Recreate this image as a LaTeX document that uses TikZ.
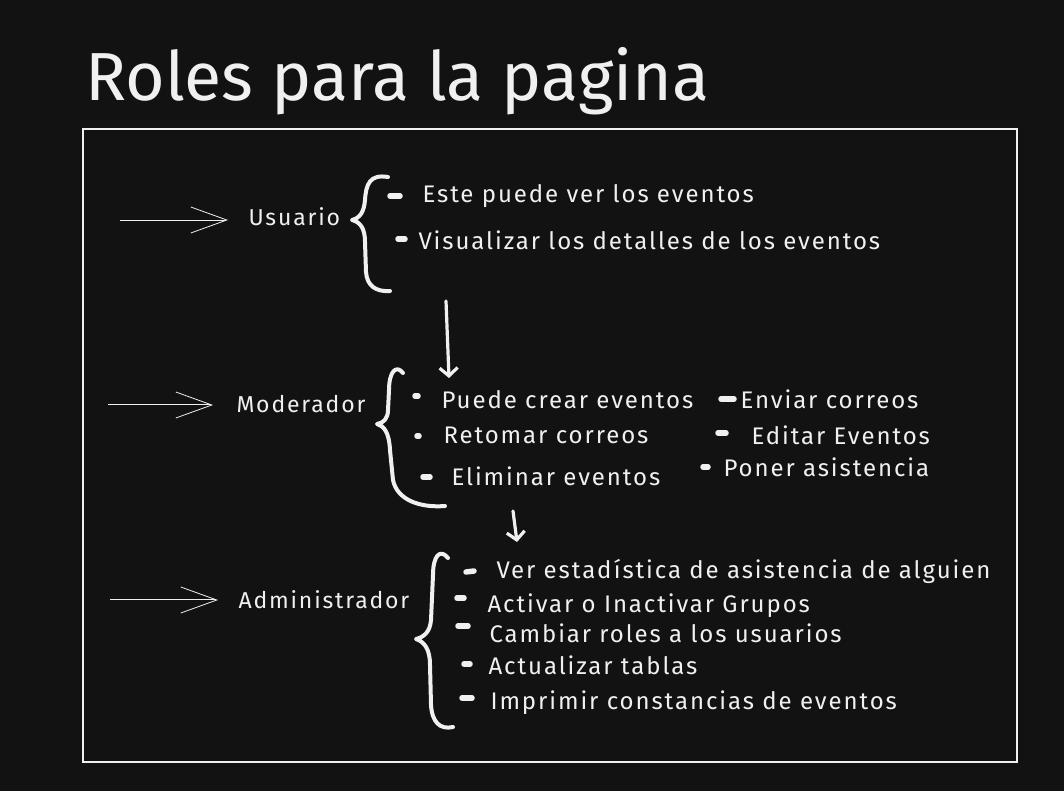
\documentclass[tikz,border=0pt]{standalone}
\usepackage{fontspec}
\setmainfont{Fira Sans}
\newfontfamily\chalkfont[LetterSpace=8]{Fira Sans}
\usetikzlibrary{positioning,arrows.meta}
\definecolor{boardbg}{HTML}{121212}
\definecolor{chalk}{HTML}{F0F0F0}
\begin{document}
\begin{tikzpicture}[x=1pt,y=-1pt,line width=1pt,
  every node/.style={text=chalk,inner sep=0pt,anchor=base west,font=\chalkfont\fontsize{24}{28}\selectfont},
  rolename/.style={font=\chalkfont\fontsize{23}{27}\selectfont},
  bullet/.style={draw=chalk,line width=5.5pt,line cap=round},
  brace/.style={draw=chalk,line width=4pt,line cap=round,line join=round},
  inarrow/.style={draw=chalk,double=boardbg,double distance=1pt,line width=.8pt,
    -{Straight Barb[length=36pt,width=26pt]}},
  downarrow/.style={draw=chalk,line width=3.2pt,line cap=round,line join=round,
    -{Straight Barb[length=8pt,width=18pt]}}]
\fill[boardbg] (0,0) rectangle (1064,791);
\useasboundingbox (0,0) rectangle (1064,791);
% title and frame
\node[font=\fontsize{68}{72}\selectfont] (title) at (85,101) {Roles para la pagina};
\draw[chalk,line width=1.5pt] (83,129) rectangle (1017,762);
% Usuario
\node[rolename] (usuario) at (248,226) {Usuario};
\coordinate (usuariotail) at (120,220);
\draw[inarrow] (usuariotail) -- (228,220);
\draw[brace] (388,177) .. controls (370,174) and (366,184) .. (365,200) .. controls (364,212) and (360,218) .. (352,220) .. controls (360,222) and (365,228) .. (365,242) -- (366,272) .. controls (367,286) and (376,292) .. (390,291);
\node (ver) at (422,203) {Este puede ver los eventos};
\node (visualizar) at (418,250) {Visualizar los detalles de los eventos};
\draw[bullet] (390,196) -- (400,196);
\draw[bullet] (398,239) -- (405,239);
% Usuario -> Moderador
\coordinate (down1top) at (446,301);
\coordinate (down1end) at (449,378);
\draw[downarrow] (down1top) -- (down1end);
% Moderador
\node[rolename] (moderador) at (236,412) {Moderador};
\coordinate (moderadortail) at (108,405);
\draw[inarrow] (moderadortail) -- (213,405);
\draw[brace] (403,373) .. controls (396,364) and (389,372) .. (389,390) -- (388,410) .. controls (388,418) and (384,423) .. (377,424) .. controls (384,426) and (389,432) .. (390,450) -- (393,480) .. controls (397,500) and (420,508) .. (445,506);
\node (crear) at (441,408) {Puede crear eventos};
\node (retomar) at (443,443) {Retomar correos};
\node (eliminar) at (451,485) {Eliminar eventos};
\node (enviar) at (740,408) {Enviar correos};
\node (editar) at (751,444) {Editar Eventos};
\node (poner) at (723,476) {Poner asistencia};
\draw[bullet] (415,396) -- (418,396);
\draw[bullet] (417,436) -- (419,436);
\draw[bullet] (423,477) -- (430,477);
\draw[bullet] (721,399) -- (734,399);
\draw[bullet] (718,433) -- (726,433);
\draw[bullet] (703,467) -- (708,467);
% Moderador -> Administrador
\coordinate (down2top) at (513,511);
\coordinate (down2end) at (517,542);
\draw[downarrow] (down2top) -- (down2end);
% Administrador
\node[rolename] (admin) at (238,608) {Administrador};
\coordinate (admintail) at (110,600);
\draw[inarrow] (admintail) -- (218,600);
\draw[brace] (448,558) .. controls (440,548) and (433,556) .. (433,575) -- (431,620) .. controls (430,632) and (424,637) .. (416,639) .. controls (425,642) and (430,650) .. (430,665) -- (431,705) .. controls (432,722) and (440,730) .. (453,727);
\node (estadistica) at (496,578) {Ver estadística de asistencia de alguien};
\node (activar) at (487,612) {Activar o Inactivar Grupos};
\node (cambiar) at (489,642) {Cambiar roles a los usuarios};
\node (actualizar) at (488,674) {Actualizar tablas};
\node (imprimir) at (490,709) {Imprimir constancias de eventos};
\draw[bullet] (466,572) -- (474,571);
\draw[bullet] (457,598) -- (464,598);
\draw[bullet] (458,626) -- (468,626);
\draw[bullet] (464,664) -- (470,664);
\draw[bullet] (462,698) -- (472,698);
\end{tikzpicture}
\end{document}
